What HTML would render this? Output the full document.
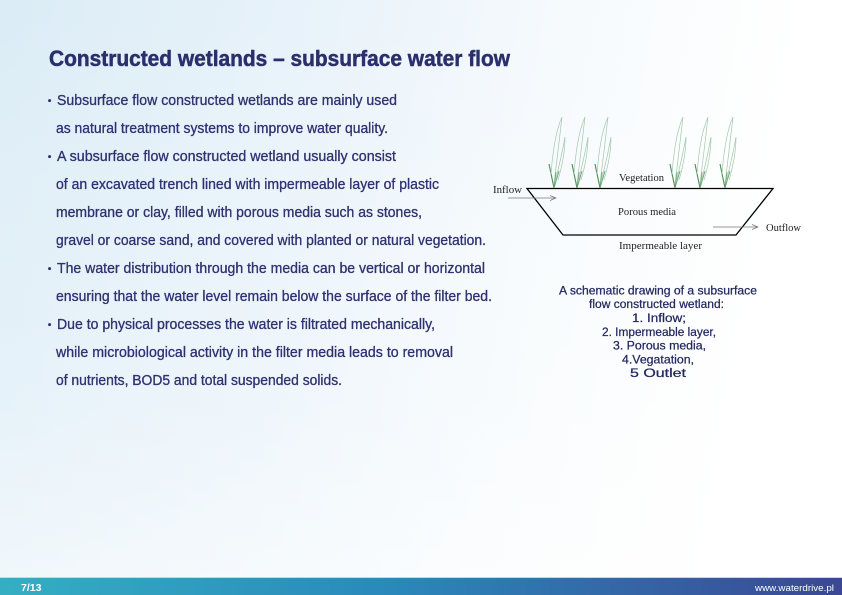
<!DOCTYPE html>
<html><head><meta charset="utf-8">
<style>
html,body{margin:0;padding:0;}
body{width:842px;height:595px;overflow:hidden;position:relative;
background:linear-gradient(100deg,#dbecf6 0%,#e9f3fa 35%,#f6fafd 60%,#ffffff 85%);}
svg{position:absolute;left:0;top:0;}
</style></head>
<body>
<svg width="842" height="595" viewBox="0 0 842 595" xmlns="http://www.w3.org/2000/svg">
<defs>
<linearGradient id="vfade" x1="0" y1="0" x2="0" y2="1">
<stop offset="0" stop-color="#ffffff" stop-opacity="0"/>
<stop offset="0.7" stop-color="#ffffff" stop-opacity="0.25"/>
<stop offset="1" stop-color="#ffffff" stop-opacity="0.55"/>
</linearGradient>
<linearGradient id="foot" x1="0" y1="0" x2="1" y2="0">
<stop offset="0" stop-color="#35aec3"/>
<stop offset="0.45" stop-color="#2a8abb"/>
<stop offset="1" stop-color="#3b4796"/>
</linearGradient>
<g id="plant">
<path d="M0,0 L-5,-24" stroke="#4d8c57" stroke-width="1.1" fill="none"/>
<path d="M0,0 L2,-16 M0,0 L5,-17" stroke="#6aa273" stroke-width="0.9" fill="none"/>
<path d="M-3,-14 C-1,-40 3,-60 8,-71 M0,-5 C4,-35 6,-55 8,-71" stroke="#a3c8aa" stroke-width="0.7" fill="none"/>
<path d="M1,-6 C6,-25 9,-40 11,-51 M4,-8 C9,-25 11,-40 11,-51" stroke="#a3c8aa" stroke-width="0.7" fill="none"/>
</g>
</defs>
<rect x="0" y="0" width="842" height="578" fill="url(#vfade)"/>

<!-- Title -->
<text x="49" y="66" font-family="Liberation Sans, sans-serif" font-weight="bold" font-size="22" fill="#2b2f6c" stroke="#2b2f6c" stroke-width="0.5" textLength="461" lengthAdjust="spacingAndGlyphs">Constructed wetlands – subsurface water flow</text>

<!-- Body -->
<g font-family="Liberation Sans, sans-serif" font-size="14.5" fill="#2f3170" stroke="#2f3170" stroke-width="0.3">
<circle cx="49.6" cy="100.6" r="1.4"/>
<text x="57" y="105" textLength="340" lengthAdjust="spacingAndGlyphs">Subsurface flow constructed wetlands are mainly used</text>
<text x="56" y="133" textLength="332" lengthAdjust="spacingAndGlyphs">as natural treatment systems to improve water quality.</text>
<circle cx="49.6" cy="156.6" r="1.4"/>
<text x="57" y="161" textLength="339" lengthAdjust="spacingAndGlyphs">A subsurface flow constructed wetland usually consist</text>
<text x="56" y="189" textLength="383" lengthAdjust="spacingAndGlyphs">of an excavated trench lined with impermeable layer of plastic</text>
<text x="56" y="217" textLength="366" lengthAdjust="spacingAndGlyphs">membrane or clay, filled with porous media such as stones,</text>
<text x="56" y="245" textLength="430" lengthAdjust="spacingAndGlyphs">gravel or coarse sand, and covered with planted or natural vegetation.</text>
<circle cx="49.6" cy="268.6" r="1.4"/>
<text x="57" y="273" textLength="428" lengthAdjust="spacingAndGlyphs">The water distribution through the media can be vertical or horizontal</text>
<text x="56" y="301" textLength="436" lengthAdjust="spacingAndGlyphs">ensuring that the water level remain below the surface of the filter bed.</text>
<circle cx="49.6" cy="324.6" r="1.4"/>
<text x="57" y="329" textLength="378" lengthAdjust="spacingAndGlyphs">Due to physical processes the water is filtrated mechanically,</text>
<text x="56" y="357" textLength="397" lengthAdjust="spacingAndGlyphs">while microbiological activity in the filter media leads to removal</text>
<text x="56" y="385" textLength="286" lengthAdjust="spacingAndGlyphs">of nutrients, BOD5 and total suspended solids.</text>
</g>

<!-- Diagram -->
<g>
<use href="#plant" x="554" y="188"/>
<use href="#plant" x="577" y="188"/>
<use href="#plant" x="600" y="188"/>
<use href="#plant" x="675" y="188"/>
<use href="#plant" x="700" y="188"/>
<use href="#plant" x="725" y="188"/>
<path d="M527,188.5 L773,188.5 L736,235 L563,235 Z" fill="none" stroke="#000" stroke-width="1.3" stroke-linejoin="miter"/>
<path d="M508,198 L556,198 M550,195.5 L556,198 L550,200.5" fill="none" stroke="#777" stroke-width="0.7"/>
<path d="M713,227 L758,227 M752,224.5 L758,227 L752,229.5" fill="none" stroke="#777" stroke-width="0.7"/>
<g font-family="Liberation Serif, serif" font-size="10.5" fill="#222">
<text x="493" y="193" textLength="29" lengthAdjust="spacingAndGlyphs">Inflow</text>
<text x="619" y="181" textLength="45" lengthAdjust="spacingAndGlyphs">Vegetation</text>
<text x="618" y="215" textLength="58" lengthAdjust="spacingAndGlyphs">Porous media</text>
<text x="766" y="231" textLength="35" lengthAdjust="spacingAndGlyphs">Outflow</text>
<text x="619" y="249" textLength="83" lengthAdjust="spacingAndGlyphs">Impermeable layer</text>
</g>
</g>

<!-- Caption -->
<g font-family="Liberation Sans, sans-serif" font-size="12.3" fill="#23285f" stroke="#23285f" stroke-width="0.25" text-anchor="middle">
<text x="658" y="294.3" textLength="198" lengthAdjust="spacingAndGlyphs">A schematic drawing of a subsurface</text>
<text x="656.5" y="308.1" textLength="135" lengthAdjust="spacingAndGlyphs">flow constructed wetland:</text>
<text x="659" y="322" textLength="54" lengthAdjust="spacingAndGlyphs">1. Inflow;</text>
<text x="659" y="335.8" textLength="114" lengthAdjust="spacingAndGlyphs">2. Impermeable layer,</text>
<text x="659.5" y="349.6" textLength="93" lengthAdjust="spacingAndGlyphs">3. Porous media,</text>
<text x="658" y="363.4" textLength="72" lengthAdjust="spacingAndGlyphs">4.Vegatation,</text>
<text x="658" y="377.2" textLength="56" lengthAdjust="spacingAndGlyphs">5 Outlet</text>
</g>

<!-- Footer -->
<rect x="0" y="577" width="842" height="1" fill="#cfd3ea"/>
<rect x="0" y="578" width="842" height="17" fill="url(#foot)"/>
<text x="21" y="591" font-family="Liberation Sans, sans-serif" font-weight="bold" font-size="10" fill="#ffffff" textLength="20.5" lengthAdjust="spacingAndGlyphs">7/13</text>
<text x="755" y="591" font-family="Liberation Sans, sans-serif" font-size="9.5" fill="#ffffff" textLength="79" lengthAdjust="spacingAndGlyphs">www.waterdrive.pl</text>
</svg>
</body></html>
